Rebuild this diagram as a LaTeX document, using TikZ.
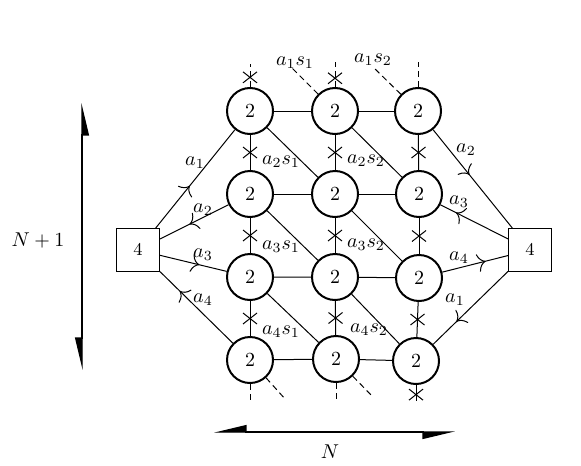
\documentclass[tikz,border=0pt]{standalone}
\usepackage{amsmath,amssymb}
\usetikzlibrary{arrows.meta,decorations.markings,shapes.misc}

\tikzset{
    gauge/.style={circle, draw, line width=1pt, minimum size=23pt, inner sep=0pt},
    flavor/.style={rectangle, draw, line width=0.5pt, minimum size=21.5pt, inner sep=0pt, font=\small},
    xmark/.style={cross out, draw, solid, line width=0.5pt, minimum width=6.5pt, minimum height=5pt, inner sep=0pt},
    lab/.style={inner sep=0pt},
    outer/.style={dash pattern=on 3pt off 2pt},
    midarrow/.style={postaction={decorate, decoration={markings, mark=at position #1 with {\arrow{To[length=4pt,width=9pt]}}}}},
    bigarrow/.style={line width=0.6pt, {Triangle[harpoon,swap,length=15pt,width=7pt]}-{Triangle[harpoon,swap,length=15pt,width=7pt]}}
}

\begin{document}
\begin{tikzpicture}[x=0.5pt, y=-0.5pt, line width=0.5pt]
        \useasboundingbox (0,0) rectangle (581,465);

        % Gauge nodes.
        \node[gauge] (n11) at (250,111) {$2$};
        \node[gauge] (n12) at (335,111) {$2$};
        \node[gauge] (n13) at (418,111) {$2$};
        \node[gauge] (n21) at (250,194) {$2$};
        \node[gauge] (n22) at (335,194) {$2$};
        \node[gauge] (n23) at (419,194) {$2$};
        \node[gauge] (n31) at (250,277) {$2$};
        \node[gauge] (n32) at (335,277) {$2$};
        \node[gauge] (n33) at (419,278) {$2$};
        \node[gauge] (n41) at (250,360) {$2$};
        \node[gauge] (n42) at (336,359) {$2$};
        \node[gauge] (n43) at (416,361) {$2$};

        % Flavour boxes.
        \node[flavor] (fL) at (138,250) {$4$};
        \node[flavor] (fR) at (530,250) {$4$};

        % Horizontal links.
        \draw (n11) -- (n12) (n12) -- (n13);
        \draw (n21) -- (n22) (n22) -- (n23);
        \draw (n31) -- (n32) (n32) -- (n33);
        \draw (n41) -- (n42) (n42) -- (n43);

        % Vertical links.
        \draw (n11) -- node[xmark] {} (n21);
        \draw (n12) -- node[xmark] {} (n22);
        \draw (n13) -- node[xmark] {} (n23);
        \draw (n21) -- node[xmark] {} (n31);
        \draw (n22) -- node[xmark] {} (n32);
        \draw (n23) -- node[xmark] {} (n33);
        \draw (n31) -- node[xmark] {} (n41);
        \draw (n32) -- node[xmark] {} (n42);
        \draw (n33) -- node[xmark] {} (n43);

        % Diagonal links.
        \draw (n11) -- (n22);
        \draw (n12) -- (n23);
        \draw (n21) -- (n32);
        \draw (n22) -- (n33);
        \draw (n31) -- (n42);
        \draw (n32) -- (n43);

        % Open ends.
        \coordinate (t1) at (250,64);
        \coordinate (t2) at (335,62);
        \coordinate (t3) at (418,62);
        \coordinate (d2) at (292,68);
        \coordinate (d3) at (374,68);
        \coordinate (b1) at (250,402);
        \coordinate (b2) at (336,402);
        \coordinate (b3) at (416,401);
        \coordinate (e1) at (286,400);
        \coordinate (e2) at (373,397);
        \draw[outer] (n11) -- node[xmark, pos=0.42] {} (t1);
        \draw[outer] (n12) -- node[xmark, pos=0.35] {} (t2);
        \draw[outer] (n13) -- (t3);
        \draw[outer] (n12) -- (d2);
        \draw[outer] (n13) -- (d3);
        \draw[outer] (n41) -- (b1);
        \draw[outer] (n42) -- (b2);
        \draw (n43) -- node[xmark, pos=0.6] {} (b3);
        \draw[outer] (n41) -- (e1);
        \draw[outer] (n42) -- (e2);

        % Links to the flavour boxes.
        \draw[midarrow=0.43] (fL) -- (n11);
        \draw[midarrow=0.57] (n21) -- (fL);
        \draw[midarrow=0.59] (fL) -- (n31);
        \draw[midarrow=0.73] (n41) -- (fL);
        \draw[midarrow=0.46] (n13) -- (fR);
        \draw[midarrow=0.77] (fR) -- (n23);
        \draw[midarrow=0.66] (n33) -- (fR);
        \draw[midarrow=0.69] (fR) -- (n43);

        % Labels.
        \node[lab] (la1L) at (195,163) {$a_1$};
        \node[lab] (la2L) at (203,210) {$a_2$};
        \node[lab] (la3L) at (203,255) {$a_3$};
        \node[lab] (la4L) at (203,300) {$a_4$};
        \node[lab] (la2R) at (466,150) {$a_2$};
        \node[lab] (la3R) at (459,202) {$a_3$};
        \node[lab] (la4R) at (459,258) {$a_4$};
        \node[lab] (la1R) at (455,300) {$a_1$};
        \node[lab] (l11) at (295,63) {$a_1s_1$};
        \node[lab] (l12) at (373,60) {$a_1s_2$};
        \node[lab] (l21) at (281,162) {$a_2s_1$};
        \node[lab] (l22) at (366,161) {$a_2s_2$};
        \node[lab] (l31) at (281,247) {$a_3s_1$};
        \node[lab] (l32) at (366,245) {$a_3s_2$};
        \node[lab] (l41) at (281,332) {$a_4s_1$};
        \node[lab] (l42) at (369,330) {$a_4s_2$};

        % Size arrows.
        \coordinate (vb) at (82,370);
        \coordinate (vt) at (82,103);
        \draw[bigarrow] (vb) -- (vt);
        \node (Nv) at (38,240) {$N+1$};
        \coordinate (hl) at (214,432);
        \coordinate (hr) at (455,432);
        \draw[bigarrow] (hl) -- (hr);
        \node (Nh) at (330,452) {$N$};

\end{tikzpicture}
\end{document}
